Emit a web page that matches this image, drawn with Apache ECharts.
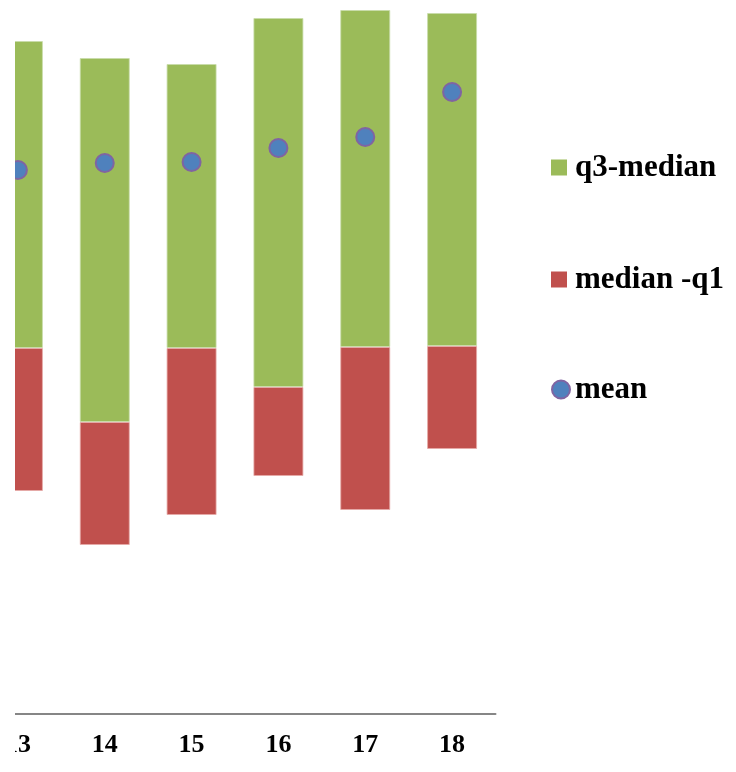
<!DOCTYPE html>
<html>
<head>
<meta charset="utf-8">
<script src="https://cdn.jsdelivr.net/npm/echarts@6/dist/echarts.min.js"></script>
<style>
  html, body { margin: 0; padding: 0; background: #ffffff; }
  body { width: 736px; height: 772px; position: relative; overflow: hidden; }
  /* the plot is shown from x = 15 onward; anything left of it is hidden */
  #frame { position: absolute; left: 15px; top: 0; width: 721px; height: 772px; overflow: hidden; }
  #chart { position: absolute; left: -41px; top: 0; width: 762px; height: 772px; }
</style>
</head>
<body>
<div id="frame"><div id="chart"></div></div>
<script>
// Categories along the x axis
const categories = ['13', '14', '15', '16', '17', '18'];
// Lower quartile (transparent base of each stacked bar)
const q1 = [22.3, 16.9, 19.9, 23.8, 20.4, 26.5];
// Median minus lower quartile
const medianMinusQ1 = [14.3, 12.3, 16.7, 8.9, 16.3, 10.3];
// Upper quartile minus median
const q3MinusMedian = [30.7, 36.4, 28.4, 36.9, 33.7, 33.3];
// Mean of each group
const mean = [54.4, 55.1, 55.2, 56.6, 57.7, 62.2];

const GREEN = '#9bbb59';
const RED = '#c0504d';
const BLUE = '#4f81bd';
const PURPLE = '#8064a2';
const FONT = '"Liberation Serif", "Times New Roman", serif';

function legendAt(name, top, icon, style, size, textLeftPad) {
  return {
    show: true,
    orient: 'vertical',
    left: 577,
    top: top,
    padding: 0,
    itemWidth: size,
    itemHeight: size,
    selectedMode: false,
    data: [{ name: name, icon: icon, itemStyle: style }],
    textStyle: {
      fontFamily: FONT, fontWeight: 'bold', fontSize: 31, color: '#000',
      lineHeight: 34, padding: [5, 0, 0, textLeftPad]
    }
  };
}

const chart = echarts.init(document.getElementById('chart'), null, { renderer: 'canvas' });
chart.setOption({
  animation: false,
  backgroundColor: '#ffffff',
  grid: { left: 0.5, width: 521, top: 4, height: 710, containLabel: false },
  legend: [
    legendAt('q3-median', 148, 'rect', { color: GREEN, borderWidth: 0 }, 16, 3),
    legendAt('median -q1', 260, 'rect', { color: RED, borderWidth: 0 }, 16, 3),
    legendAt('mean', 370, 'circle', { color: BLUE, borderColor: PURPLE, borderWidth: 2, opacity: 1 }, 18, 0)
  ],
  xAxis: {
    type: 'category',
    data: categories,
    boundaryGap: true,
    axisLine: { show: true, lineStyle: { color: '#868686', width: 2 } },
    axisTick: { show: false },
    axisLabel: { fontFamily: FONT, fontWeight: 'bold', fontSize: 26, color: '#000', margin: 18, lineHeight: 26 },
    splitLine: { show: false }
  },
  yAxis: {
    type: 'value',
    min: 0,
    max: 71,
    show: false,
    splitLine: { show: false }
  },
  series: [
    {
      name: 'q1',
      type: 'bar',
      stack: 'box',
      data: q1,
      barWidth: 50,
      itemStyle: { color: 'transparent' },
      emphasis: { disabled: true },
      silent: true
    },
    {
      name: 'median -q1',
      type: 'bar',
      stack: 'box',
      data: medianMinusQ1,
      barWidth: 50,
      itemStyle: { color: RED, borderColor: 'rgba(230,170,168,0.8)', borderWidth: 1 }
    },
    {
      name: 'q3-median',
      type: 'bar',
      stack: 'box',
      data: q3MinusMedian,
      barWidth: 50,
      itemStyle: { color: GREEN, borderColor: 'rgba(200,220,170,0.8)', borderWidth: 1 }
    },
    {
      name: 'mean',
      type: 'scatter',
      data: mean,
      symbol: 'circle',
      symbolSize: 18,
      z: 5,
      itemStyle: { color: BLUE, borderColor: PURPLE, borderWidth: 2, opacity: 1 }
    }
  ]
});
</script>
</body>
</html>
